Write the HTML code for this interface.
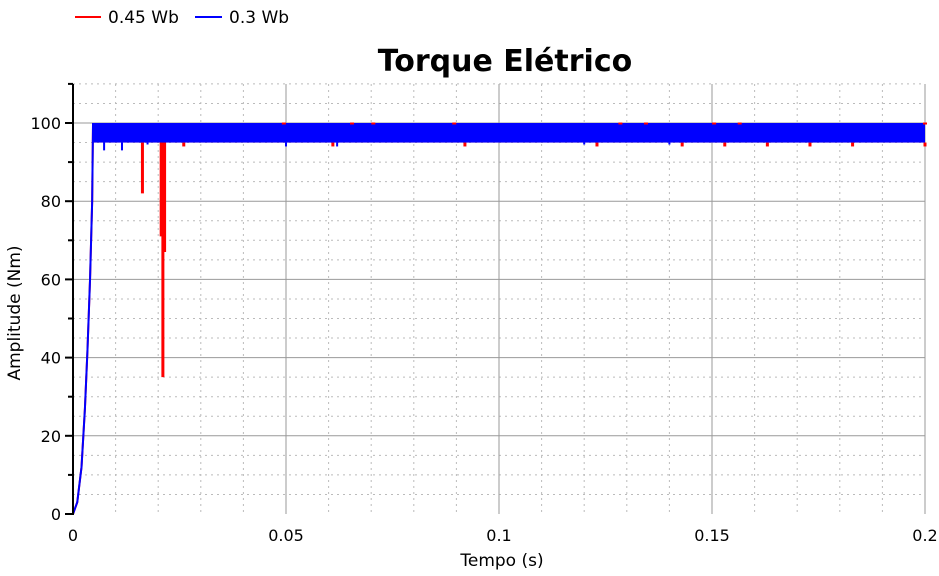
<!DOCTYPE html>
<html><head><meta charset="utf-8"><style>
body{margin:0;background:#fff;font-family:"Liberation Sans","DejaVu Sans",sans-serif;}
svg text{font-family:"DejaVu Sans","Liberation Sans",sans-serif;}
</style></head><body>
<svg id="c" width="939" height="571" viewBox="0 0 939 571">
<g id="grid"></g>
<g id="series"></g>
<g id="axes"></g>
<text x="505" y="71" font-size="30" font-weight="bold" text-anchor="middle">Torque Elétrico</text>
<text x="502" y="566" font-size="17" text-anchor="middle">Tempo (s)</text>
<text transform="translate(20,313) rotate(-90)" font-size="17" text-anchor="middle">Amplitude (Nm)</text>
<g><line x1="75" y1="17" x2="101" y2="17" stroke="#f00" stroke-width="2"/><text x="108" y="23" font-size="17">0.45 Wb</text></g>
<g><line x1="195" y1="17" x2="222" y2="17" stroke="#00f" stroke-width="2"/><text x="229" y="23" font-size="17">0.3 Wb</text></g>
</svg>
<script>
const xTicks=[0,0.05,0.1,0.15,0.2];
const xTickLabels=["0","0.05","0.1","0.15","0.2"];
const yTicks=[0,20,40,60,80,100];
const riseT=[0,0.001,0.002,0.0028,0.0034,0.004,0.0045,0.0047];
const riseV=[0,3,12,27,42,60,80,100];
const bandStart=0.0047, bandEnd=0.2, bandLow=95, bandHigh=100;
const redSpikeT=[0.0163,0.0207,0.0211,0.0215,0.026,0.061,0.092,0.123,0.143,0.153,0.163,0.173,0.183,0.2];
const redSpikeV=[82,71,35,67,94,94,94,94,94,94,94,94,94,94];
const redTopT=[0.0495,0.0655,0.0705,0.0895,0.1285,0.1345,0.1505,0.1565,0.2];
const blueDipT=[0.0073,0.0115,0.0175,0.05,0.062,0.12,0.14];
const blueDipV=[93,93,94.5,94,94,94.5,94.5];
const X0=73,X1=925,Y0=514,Y1=123;
const xs=t=>X0+(X1-X0)*t/0.2;
const ys=v=>Y0-(Y0-Y1)*v/100;
const NS="http://www.w3.org/2000/svg";
function mk(p,tag,a){const e=document.createElementNS(NS,tag);for(const k in a)e.setAttribute(k,a[k]);p.appendChild(e);return e;}
const grid=document.getElementById('grid'),ser=document.getElementById('series'),ax=document.getElementById('axes');
for(let i=1;i<=20;i++){if(i%5)mk(grid,'line',{x1:xs(i*0.01),x2:xs(i*0.01),y1:84,y2:Y0,stroke:'#bbb','stroke-dasharray':'2,4'});}
for(let v=5;v<=110;v+=5){if(v%20){mk(grid,'line',{x1:X0,x2:X1,y1:ys(v),y2:ys(v),stroke:'#bbb','stroke-dasharray':'2,4'});}}
xTicks.forEach((t,i)=>{if(i>0){const l=mk(grid,'line',{x1:xs(t),x2:xs(t),y1:84,y2:Y0,stroke:'#999'});

}
const tx=mk(ax,'text',{x:xs(t),y:541,'font-size':16,'text-anchor':'middle'});tx.textContent=xTickLabels[i];

});
yTicks.forEach(v=>{if(v>0)mk(grid,'line',{x1:X0,x2:X1,y1:ys(v),y2:ys(v),stroke:'#999'});
mk(ax,'line',{x1:X0-8,x2:X0,y1:ys(v),y2:ys(v),stroke:'#000','stroke-width':2});
const tx=mk(ax,'text',{x:X0-12,y:ys(v)+6,'font-size':16,'text-anchor':'end'});tx.textContent=v;

});
for(let v=10;v<=110;v+=20)mk(ax,'line',{x1:X0-5,x2:X0,y1:ys(v),y2:ys(v),stroke:'#000','stroke-width':2});
mk(ax,'line',{x1:X0,x2:X0,y1:84,y2:Y0+1,stroke:'#000','stroke-width':2});
// red series
let rp=riseT.map((t,i)=>xs(t)+','+ys(riseV[i])).join(' ');
mk(ser,'polyline',{points:rp,fill:'none',stroke:'#f00','stroke-width':2});
const rb=mk(ser,'rect',{x:xs(bandStart),y:ys(bandHigh),width:xs(bandEnd)-xs(bandStart),height:ys(bandLow)-ys(bandHigh),fill:'#f00'});


redSpikeT.forEach((t,i)=>{const l=mk(ser,'line',{x1:xs(t),x2:xs(t),y1:ys(bandLow),y2:ys(redSpikeV[i]),stroke:'#f00','stroke-width':3});

});
// blue series
mk(ser,'polyline',{points:rp,fill:'none',stroke:'#00f','stroke-width':2});
const bb=mk(ser,'rect',{x:xs(bandStart),y:ys(bandHigh),width:xs(bandEnd)-xs(bandStart),height:ys(bandLow)-ys(bandHigh),fill:'#00f'});


blueDipT.forEach((t,i)=>{const l=mk(ser,'line',{x1:xs(t),x2:xs(t),y1:ys(bandLow),y2:ys(blueDipV[i]),stroke:'#00f','stroke-width':2});

});
redTopT.forEach(t=>{const l=mk(ser,'line',{x1:xs(t)-2,x2:xs(t)+2,y1:ys(bandHigh)+0.5,y2:ys(bandHigh)+0.5,stroke:'#f00','stroke-width':2});

});
</script>
</body></html>
